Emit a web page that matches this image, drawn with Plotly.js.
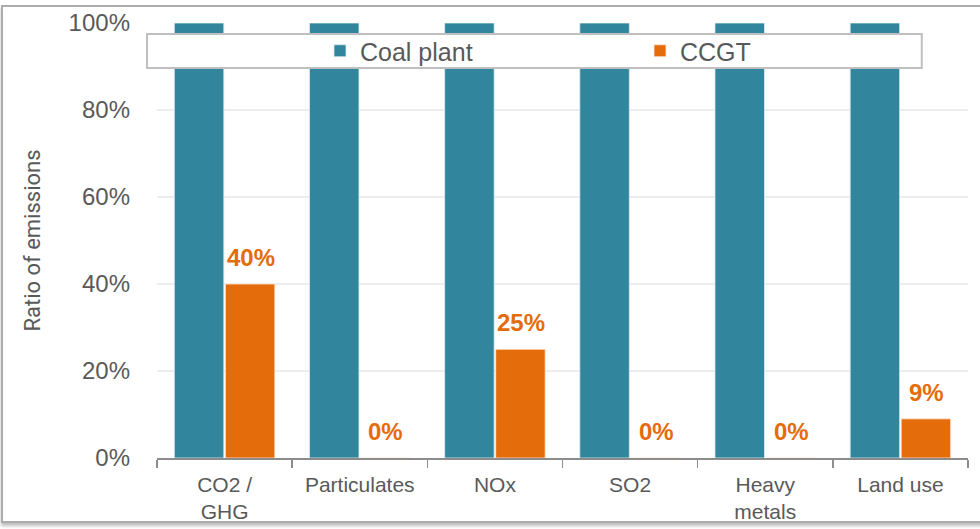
<!DOCTYPE html>
<html>
<head>
<meta charset="utf-8">
<script src="https://cdn.plot.ly/plotly-3.0.1.min.js"></script>
<style>
  html, body { margin: 0; padding: 0; background: #fff; }
  #wrap { position: relative; width: 980px; height: 529px; overflow: hidden; }
  #chart { width: 980px; height: 529px; }
  #frame { position: absolute; left: 1px; top: 5px; width: 995px; height: 518px;
           border: 2px solid #ABABAB; box-shadow: 0 3px 3px rgba(0,0,0,0.25);
           pointer-events: none; box-sizing: border-box; }
</style>
</head>
<body>
<div id="wrap">
  <div id="chart"></div>
  <div id="frame"></div>
</div>
<script>
const categories = ["CO2 /<br>GHG", "Particulates", "NOx", "SO2", "Heavy<br>metals", "Land use"];
const coalPlant = [1.00, 1.00, 1.00, 1.00, 1.00, 1.00];
const ccgt = [0.40, 0.00, 0.25, 0.00, 0.00, 0.09];
const ccgtLabels = ["40%", "0%", "25%", "0%", "0%", "9%"];
const yTickVals = [0, 0.2, 0.4, 0.6, 0.8, 1.0];
const yTickText = ["0%", "20%", "40%", "60%", "80%", "100%"];

const COAL = "#31859C";
const ORANGE = "#E46C0A";
const TXT = "#595959";

const traces = [
  {
    type: "bar", name: "Coal plant", x: categories, y: coalPlant,
    marker: { color: COAL, line: { color: "rgba(220,235,240,0.8)", width: 1 } },
    hoverinfo: "none"
  },
  {
    type: "bar", name: "CCGT", x: categories, y: ccgt,
    marker: { color: ORANGE, line: { color: "rgba(255,235,220,0.8)", width: 1 } },
    hoverinfo: "none"
  }
];

const annotations = categories.map((c, i) => ({
  x: c, y: ccgt[i], xref: "x", yref: "y",
  text: "<b>" + ccgtLabels[i] + "</b>",
  showarrow: false, yanchor: "bottom", xanchor: "center",
  xshift: 26, yshift: 11,
  font: { family: "Liberation Sans, Arial, sans-serif", size: 24, color: ORANGE }
}));

const layout = {
  width: 980, height: 529,
  margin: { l: 157, r: 12, t: 23, b: 71 },
  paper_bgcolor: "#fff", plot_bgcolor: "#fff",
  barmode: "group", bargap: 0.245, bargroupgap: 0.03,
  font: { family: "Liberation Sans, Arial, sans-serif", color: TXT },
  showlegend: true,
  legend: {
    orientation: "h", x: 0.201, xanchor: "left", y: 0.9356, yanchor: "middle",
    bgcolor: "rgba(0,0,0,0)", borderwidth: 0,
    entrywidth: 275, entrywidthmode: "pixels",
    font: { size: 25, color: TXT }
  },
  xaxis: {
    type: "category", showgrid: false,
    showline: true, linecolor: "#8C8C8C", linewidth: 1.5,
    ticks: "outside", tickson: "boundaries", ticklen: 8, tickcolor: "#8C8C8C", tickwidth: 1.5,
    tickfont: { size: 21, color: TXT }, ticklabelstandoff: 7,
    fixedrange: true
  },
  yaxis: {
    range: [0, 1], tickvals: yTickVals, ticktext: yTickText,
    showgrid: true, gridcolor: "#EDEDED", gridwidth: 1.5,
    zeroline: false, showline: false, ticks: "",
    tickfont: { size: 24, color: TXT }, ticklabelstandoff: 26,
    title: { text: "Ratio of emissions", standoff: 21,
             font: { family: "Roboto, Liberation Sans, sans-serif", size: 22, color: TXT } },
    fixedrange: true
  },
  shapes: [
    { type: "rect", xref: "paper", yref: "paper", layer: "above",
      x0: -0.0123, x1: 0.943, y0: 0.8966, y1: 0.9747,
      fillcolor: "#ffffff", line: { color: "#BFBFBF", width: 2 } }
  ],
  annotations: annotations
};

Plotly.newPlot("chart", traces, layout, { displayModeBar: false, staticPlot: true });
</script>
</body>
</html>
